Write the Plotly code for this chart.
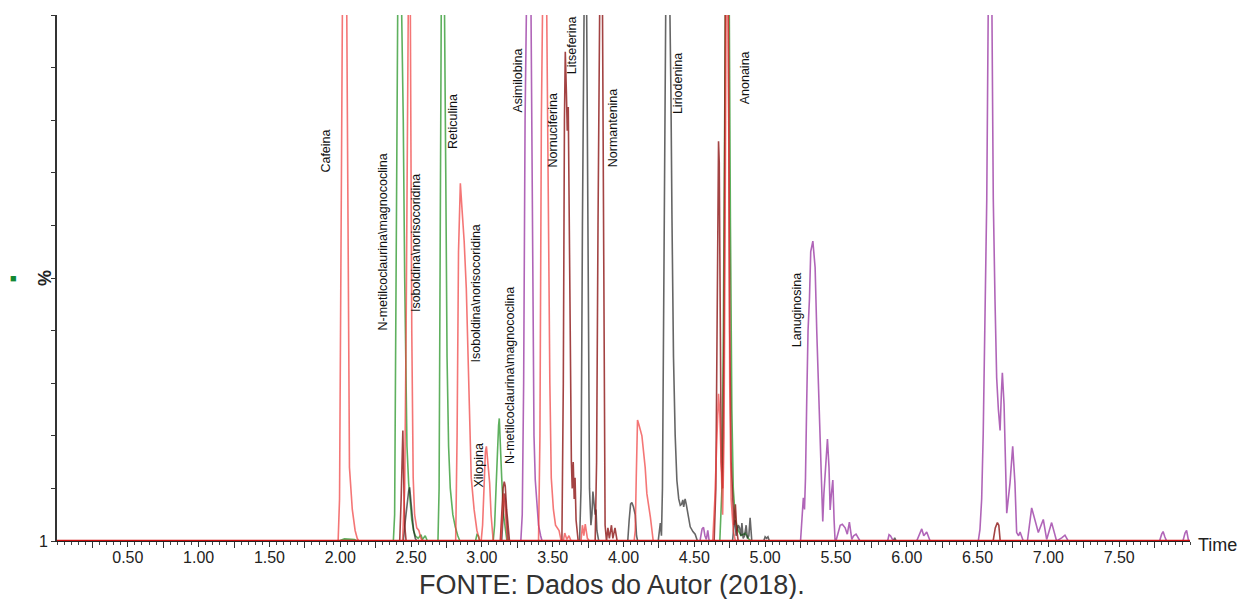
import plotly.graph_objects as go

# ---------------- data (time in min, intensity in %) ----------------
red_t = [0.0, 1.985, 1.995, 2.005, 2.015, 2.03, 2.045, 2.055, 2.065, 2.085, 2.105, 2.12, 2.13,
         2.44, 2.455, 2.465, 2.475, 2.485, 2.495, 2.505, 2.515, 2.525, 2.54, 2.555, 2.57, 2.585,
         2.815, 2.825, 2.835, 2.848, 2.86, 2.875, 2.89, 2.905, 2.925, 2.945, 2.965, 2.985,
         2.995, 3.005, 3.015, 3.025, 3.032, 3.045, 3.055, 3.065, 3.08,
         3.135, 3.145, 3.155, 3.165, 3.18,
         3.40, 3.41, 3.42, 3.43, 3.44, 3.455, 3.465, 3.47, 3.48, 3.49, 3.505, 3.52, 3.545, 3.56,
         3.575, 3.585, 3.60, 3.615, 3.63,
         3.70, 3.71, 3.72, 3.73, 3.745, 3.76,
         4.075, 4.083, 4.09, 4.099, 4.11, 4.13, 4.153, 4.165, 4.19, 4.21,
         4.63, 4.645, 4.66, 4.671, 4.68, 4.69, 4.70, 4.71, 4.72, 4.73, 4.74, 4.75, 4.76, 4.775, 4.79,
         8.0]
red_v = [0, 0, 8, 50, 100, 125, 105, 60, 14, 6, 2, 0.5, 0,
         0, 10, 40, 90, 120, 100, 40, 12, 5, 2.5, 2, 0.5, 0,
         0, 20, 55, 68, 63, 57, 48, 30, 12, 6, 2, 0,
         0, 3, 10, 17, 18, 13, 11, 5, 0,
         0, 5, 9, 6, 0,
         0, 20, 80, 120, 130, 110, 80, 50, 30, 12, 6, 3, 2, 0,
         0, 1.5, 0.3, 1, 0,
         0, 3, 1, 3.2, 0.5, 0,
         0, 2, 12, 23, 22, 20, 14, 9, 4.5, 0,
         0, 8, 20, 28, 24, 15, 5, 20, 90, 130, 100, 30, 8, 2, 0,
         0]

green_t = [0.0, 1.99, 2.03, 2.10, 2.12,
           2.375, 2.384, 2.392, 2.40, 2.41, 2.42, 2.43, 2.445, 2.455, 2.465, 2.471, 2.483, 2.495,
           2.505, 2.518, 2.53, 2.55, 2.57, 2.58, 2.60, 2.615,
           2.69, 2.698, 2.705, 2.713, 2.723, 2.735, 2.745, 2.754, 2.765, 2.777, 2.795, 2.812, 2.83, 2.845,
           2.955, 2.965, 2.975, 2.985,
           3.08, 3.09, 3.10, 3.11, 3.118, 3.123, 3.13, 3.14, 3.153, 3.165, 3.177,
           4.68, 4.695, 4.705, 4.715, 4.725, 4.735, 4.745, 4.755, 4.765, 4.775, 4.79, 4.81, 4.83, 4.86,
           4.88, 4.90, 8.0]
green_v = [0, 0, 0.4, 0.3, 0,
           0, 5, 40, 90, 120, 125, 110, 80, 50, 30, 18, 11, 7,
           4, 2, 1, 0.5, 1.2, 0.3, 1, 0,
           0, 10, 50, 100, 125, 105, 70, 35, 18, 10, 5, 2.7, 1, 0,
           0, 1.2, 1, 0,
           0, 3, 10, 18, 22, 23.3, 18, 12, 5, 2, 0,
           0, 10, 40, 90, 125, 130, 110, 60, 25, 10, 4, 2, 1, 1.5,
           0.5, 0, 0]

maroon_t = [0.0, 2.42, 2.43, 2.437, 2.442, 2.448, 2.455, 2.465,
            3.13, 3.14, 3.15, 3.158, 3.165, 3.175, 3.185, 3.195,
            3.565, 3.575, 3.583, 3.589, 3.597, 3.603, 3.61, 3.617, 3.625, 3.632, 3.638, 3.645, 3.652,
            3.658, 3.665, 3.68,
            3.80, 3.81, 3.82, 3.83, 3.84, 3.85, 3.86, 3.865, 3.87, 3.88,
            3.89, 3.90, 3.915, 3.925, 3.94, 3.955,
            4.64, 4.652, 4.66, 4.667, 4.671, 4.676, 4.682, 4.69, 4.70, 4.71, 4.72, 4.73, 4.74, 4.75,
            4.76, 4.77, 4.78, 4.79, 4.80, 4.81,
            6.61, 6.625, 6.64, 6.65, 6.66, 8.0]
maroon_v = [0, 0, 8, 18, 21, 12, 3, 0,
            0, 5, 10, 11.3, 10.5, 6, 2, 0,
            0, 30, 80, 93, 85, 78, 82.5, 60, 30, 15, 10, 15, 8,
            12, 4, 0,
            0, 15, 60, 110, 130, 110, 40, 10, 3, 0,
            2.5, 0.5, 3, 0.5, 2.5, 0,
            0, 10, 45, 70, 76, 72, 40, 15, 10, 40, 110, 130, 100, 40,
            15, 8, 3, 7, 2, 0,
            0, 2.5, 3.5, 3, 0, 0]

black_t = [0.0, 2.445, 2.46, 2.47, 2.483, 2.49, 2.498, 2.507, 2.518, 2.53, 2.54,
           3.14, 3.15, 3.158, 3.165, 3.175, 3.185,
           3.69, 3.70, 3.71, 3.72, 3.73, 3.74, 3.75, 3.76, 3.77, 3.777, 3.784, 3.79, 3.80, 3.806,
           3.812, 3.825,
           4.03, 4.04, 4.05, 4.059, 4.07, 4.083, 4.092, 4.10,
           4.245, 4.26, 4.268, 4.275, 4.285, 4.295, 4.305, 4.313, 4.325, 4.335, 4.342, 4.353, 4.365,
           4.377, 4.39, 4.401, 4.41, 4.419, 4.425, 4.435, 4.443, 4.452, 4.471, 4.49, 4.506, 4.522,
           4.77, 4.78, 4.788, 4.795, 4.81, 4.82, 4.83, 4.836, 4.845, 4.855, 4.866, 4.875, 4.885,
           4.894, 4.906,
           4.99, 5.0, 5.01, 5.02, 5.03,
           5.905, 5.915, 5.925, 8.0]
black_v = [0, 0, 4, 7, 9.5, 10.2, 8, 5.5, 2, 0.5, 0,
           0, 6, 9, 8, 3, 0,
           0, 10, 60, 110, 130, 100, 40, 10, 3, 5, 9.4, 7, 5, 6,
           2, 0,
           0, 4, 7, 7.3, 6.5, 5, 1, 0,
           0, 3.4, 1, 10, 50, 100, 128, 132, 110, 85, 62, 35, 20,
           11.5, 8, 6.8, 7, 7.8, 6.5, 8, 7, 5.5, 2.7, 1.8, 1.3, 0,
           0, 3, 4, 1, 3, 2.5, 1, 3.4, 0.5, 1, 3, 0.5, 1,
           4.4, 0,
           0, 0.8, 0.5, 0.8, 0,
           0, 0.6, 0, 0]

purple_t = [0.0, 3.275, 3.285, 3.295, 3.305, 3.318, 3.33, 3.342, 3.352, 3.36, 3.368, 3.377, 3.40,
            3.415, 3.425,
            4.54, 4.555, 4.565, 4.575, 4.585, 4.595, 4.605,
            5.25, 5.262, 5.27, 5.278, 5.285, 5.294, 5.303, 5.313, 5.322, 5.337, 5.345, 5.353, 5.365,
            5.376, 5.388, 5.40, 5.407, 5.415, 5.423, 5.432, 5.44, 5.451, 5.459, 5.468, 5.478, 5.487,
            5.494,
            5.50, 5.515, 5.53, 5.545, 5.565, 5.58, 5.595, 5.612, 5.625, 5.642, 5.67,
            5.865, 5.875, 5.885, 5.895, 5.905,
            6.07, 6.09, 6.106, 6.12, 6.141, 6.165,
            6.505, 6.517, 6.529, 6.54, 6.552, 6.565, 6.575, 6.585, 6.595, 6.603, 6.611, 6.623, 6.635,
            6.647, 6.659, 6.668, 6.675, 6.687, 6.706, 6.729, 6.748, 6.764, 6.776, 6.79, 6.80, 6.823,
            6.852, 6.882, 6.905, 6.929, 6.964, 6.988, 7.023, 7.058, 7.094, 7.117, 7.14,
            7.785, 7.80, 7.81, 7.822, 7.835,
            7.95, 7.965, 7.976, 7.99, 8.0]
purple_v = [0, 0, 5, 30, 80, 125, 135, 120, 80, 40, 20, 11.6, 3,
            1, 0,
            0, 2.3, 2.6, 1, 0.3, 2, 0,
            0, 5, 8.2, 6, 12, 27, 40, 46, 55, 57, 55, 52, 39.5,
            30, 20.5, 9, 3.7, 9, 13, 17, 19.4, 14, 5.9, 9, 11.6, 4,
            0,
            0, 1.8, 3, 3.2, 2.5, 1.3, 3.6, 0.3, 1, 1.3, 0,
            0, 1.2, 1, 0.5, 0,
            0, 1.5, 2.3, 1, 1.7, 0,
            0, 2.2, 8, 20.5, 45.8, 65, 100, 130, 125, 95, 65, 46, 31,
            25, 21, 28, 32, 26, 5.3, 11, 18, 11, 1.6, 1, 1.7, 0,
            0, 6.3, 4, 1.6, 4.1, 0.3, 3.5, 0, 0.6, 1.1, 0,
            0, 1.3, 1.8, 0.8, 0,
            0, 1.5, 2, 0, 0]

baseline_t = [0.0, 8.0]
baseline_v = [0, 0]

peak_names = ["Cafeina", "N-metilcoclaurina\\magnococlina", "Isoboldina\\norisocoridina",
              "Reticulina", "Isoboldina\\norisocoridina", "Xilopina",
              "N-metilcoclaurina\\magnococlina", "Asimilobina", "Nornuciferina", "Litseferina",
              "Normantenina", "Liriodenina", "Anonaina", "Lanuginosina"]
label_t = [1.902, 2.304, 2.53, 2.798, 2.96, 2.982, 3.20, 3.257, 3.504, 3.638, 3.927, 4.386,
           4.859, 5.226]
label_y = [74.1, 56.8, 56.7, 79.7, 47.1, 14.4, 31.4, 87.6, 78.1, 94.3, 78.5, 86.9, 88.0, 43.9]

x_tick_vals = [0.5, 1.0, 1.5, 2.0, 2.5, 3.0, 3.5, 4.0, 4.5, 5.0, 5.5, 6.0, 6.5, 7.0, 7.5]
x_tick_text = ["0.50", "1.00", "1.50", "2.00", "2.50", "3.00", "3.50", "4.00", "4.50", "5.00",
               "5.50", "6.00", "6.50", "7.00", "7.50"]
y_tick_vals = [0, 10, 20, 30, 40, 50, 60, 70, 80, 90, 100]
y_tick_text = ["1", "", "", "", "", "", "", "", "", "", ""]

# ---------------- figure ----------------
W, H = 1238, 599
L, R, T, B = 57, 48, 15, 58
pw, ph = W - L - R, H - T - B


def px_x(p):
    return (p - L) / pw


def px_y(p):
    return (H - B - p) / ph


fig = go.Figure()
series = [
    (green_t, green_v, "rgba(40,150,40,0.75)"),
    (black_t, black_v, "rgba(20,20,20,0.65)"),
    (purple_t, purple_v, "rgba(150,50,160,0.75)"),
    (maroon_t, maroon_v, "rgba(140,20,20,0.8)"),
    (red_t, red_v, "rgba(240,60,60,0.7)"),
]
for t, v, c in series:
    fig.add_trace(go.Scatter(x=t, y=v, mode="lines", line=dict(color=c, width=1.6),
                             hoverinfo="skip", showlegend=False))
fig.add_trace(go.Scatter(x=baseline_t, y=baseline_v, mode="lines",
                         line=dict(color="#d01010", width=2.5), hoverinfo="skip",
                         showlegend=False, cliponaxis=False))

for name, tx, ty in zip(peak_names, label_t, label_y):
    fig.add_annotation(x=tx, y=ty, xref="x", yref="y", text=name, textangle=-90,
                       xanchor="center", yanchor="middle", showarrow=False,
                       font=dict(family="Liberation Sans, Arial", size=12.5, color="#111111"))

fig.add_annotation(x=px_x(45), y=px_y(278), xref="paper", yref="paper", text="<b>%</b>",
                   textangle=-90, xanchor="center", yanchor="middle", showarrow=False,
                   font=dict(family="Liberation Sans, Arial", size=18, color="#222222"))
fig.add_annotation(x=px_x(13), y=px_y(278), xref="paper", yref="paper", text="■",
                   xanchor="center", yanchor="middle", showarrow=False,
                   font=dict(size=11, color="#118833"))
fig.add_annotation(x=px_x(1217), y=px_y(545), xref="paper", yref="paper", text="Time",
                   xanchor="center", yanchor="middle", showarrow=False,
                   font=dict(family="Liberation Sans, Arial", size=18, color="#222222"))
fig.add_annotation(x=px_x(612), y=px_y(585), xref="paper", yref="paper",
                   text="FONTE: Dados do Autor (2018).", xanchor="center", yanchor="middle",
                   showarrow=False,
                   font=dict(family="Liberation Sans, Arial", size=27, color="#333333"))

fig.update_layout(
    width=W, height=H,
    margin=dict(l=L, r=R, t=T, b=B, pad=0),
    paper_bgcolor="white", plot_bgcolor="white",
    font=dict(family="Liberation Sans, Arial", size=16, color="#222222"),
    xaxis=dict(range=[0, 8.0], showgrid=False, zeroline=False, showline=True,
               linecolor="#222222", linewidth=1, ticks="outside", ticklen=5, tickwidth=1,
               tickcolor="#333333", tickmode="array", tickvals=x_tick_vals,
               ticktext=x_tick_text, tickfont=dict(size=16), ticklabelstandoff=-3,
               minor=dict(dtick=0.05, tick0=0, ticklen=3, ticks="outside", tickcolor="#444444",
                          showgrid=False)),
    xaxis2=dict(range=[0, 8.0], overlaying="x", side="bottom", showgrid=False, zeroline=False,
                showline=False, ticks="outside", ticklen=6, tickwidth=1, tickcolor="#333333",
                tick0=0.25, dtick=0.5, showticklabels=False, anchor="y"),
    yaxis=dict(range=[0, 100], showgrid=False, zeroline=False, showline=True,
               linecolor="#333333", linewidth=2, ticks="outside", ticklen=4, tickwidth=1,
               tickcolor="#333333", tickmode="array", tickvals=y_tick_vals,
               ticktext=y_tick_text, tickfont=dict(size=16)),
)
fig.add_trace(go.Scatter(x=[0.0], y=[0.0], xaxis="x2", mode="markers",
                         marker=dict(opacity=0), hoverinfo="skip", showlegend=False))

fig.write_html("out.html", config={"displayModeBar": False},
               post_script="document.body.style.margin='0';")
